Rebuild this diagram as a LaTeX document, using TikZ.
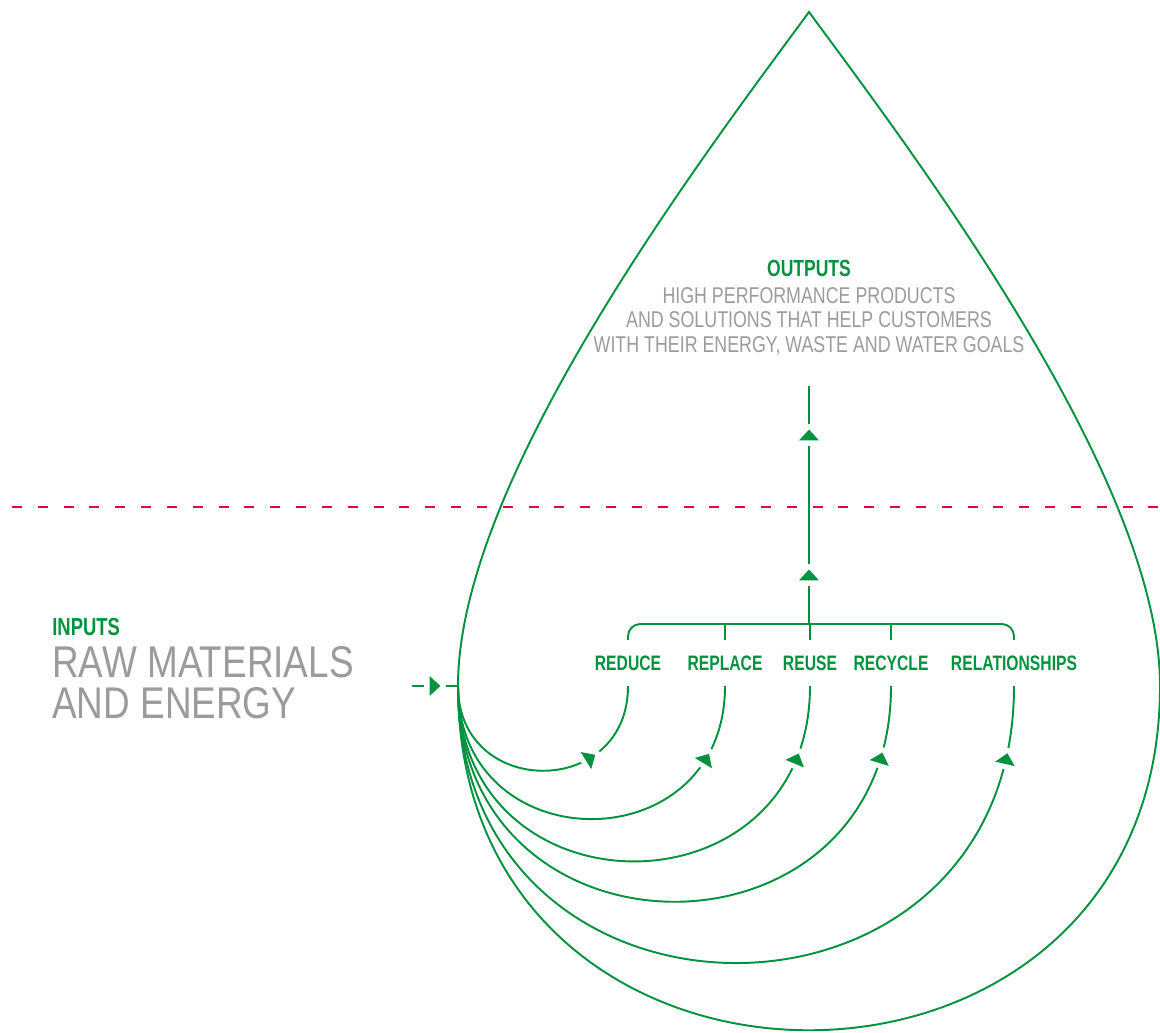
\documentclass[tikz,border=0pt]{standalone}
\usepackage{fontspec}
\usepackage{xcolor}
\usepackage{tikz}
\usetikzlibrary{calc, positioning, decorations.markings}

\newfontfamily\condfont{Liberation Sans}[FakeStretch=0.78]
\newfontfamily\widefont{Liberation Sans}[FakeStretch=0.83]
\newfontfamily\condbold{Liberation Sans}[FakeStretch=0.75]

\definecolor{leafgreen}{RGB}{0,146,63}
\definecolor{mistgray}{RGB}{155,155,155}
\definecolor{tidered}{RGB}{228,0,58}

\tikzset{
  stem/.style={draw=leafgreen, line width=1.1pt},
  tri/.style={postaction={decorate, decoration={markings, mark=at position #1 with {
        \fill[white] (-6pt,-1.4pt) rectangle (6pt,1.4pt);
        \fill[leafgreen] (3.1pt,0) -- (-3.1pt,5.7pt) -- (-3.1pt,-5.7pt) -- cycle;}}}},
  rlabel/.style={text=leafgreen, font=\condbold\bfseries\fontsize{11.9}{13}\selectfont,
    inner xsep=0pt, inner ysep=8.75pt, text height=8.5pt, text depth=0pt},
  headtext/.style={inner sep=0pt, text=leafgreen},
  bodytext/.style={inner sep=0pt, text=mistgray}
}

\begin{document}
\begin{tikzpicture}[x=0.02cm, y=0.02cm]
\useasboundingbox (0,0) rectangle (1160,-1032);

% water line
\draw[tidered, line width=1.1pt, dash pattern=on 5.7pt off 9pt] (12,-507) -- (1160,-507);

% the drop
\draw[stem] (458,-686) .. controls (458,-1145) and (1160,-1145) .. (1160,-686)
  .. controls (1160,-480) and (918,-160) .. (809,-12)
  .. controls (700,-160) and (458,-480) .. cycle;

\node[headtext, anchor=north west, font=\condbold\bfseries\fontsize{14}{15}\selectfont] (inputs) at (52,-618) {INPUTS};
\node[bodytext, below right=5.7pt and 0pt of inputs.south west, align=left,
  font=\widefont\fontsize{25.3}{23.2}\selectfont] (rawtext) {RAW MATERIALS\\AND ENERGY};

\node[bodytext, anchor=north, align=center, font=\condfont\fontsize{13}{13.9}\selectfont] (outtext) at (809,-287)
  {HIGH PERFORMANCE PRODUCTS\\AND SOLUTIONS THAT HELP CUSTOMERS\\WITH THEIR ENERGY, WASTE AND WATER GOALS};
\node[headtext, above=5.7pt of outtext, font=\condbold\bfseries\fontsize{13.3}{15}\selectfont] (outputs) {OUTPUTS};

\node[rlabel] (reduce) at (628,-663) {REDUCE};
\node[rlabel] (replace) at (725,-663) {REPLACE};
\node[rlabel] (reuse) at (810,-663) {REUSE};
\node[rlabel] (recycle) at (891,-663) {RECYCLE};
\node[rlabel] (relations) at (1014,-663) {RELATIONSHIPS};

\coordinate (hub) at (809,-624);
\coordinate (outlet) at (809,-386);
\coordinate (inlet) at (458,-686);
\coordinate (feed) at (412,-686);

% bracket over the five words
\draw[stem, rounded corners=7pt] (reduce.north) |- (hub) -| (relations.north);
\draw[stem] (replace.north) -- (replace.north |- hub);
\draw[stem] (recycle.north) -- (recycle.north |- hub);
\draw[stem] (reuse.north) -- (reuse.north |- hub);
\draw[stem, tri=0.206, tri=0.794] (hub) -- (outlet);

\draw[stem, tri=0.5] (feed) -- (inlet);
\foreach \word/\pos in {reduce/0.686, replace/0.821, reuse/0.867, recycle/0.894, relations/0.917}
  \draw[stem, tri=\pos] (inlet) to[out=-90, in=-90, looseness=1.703] (\word.south);

\end{tikzpicture}
\end{document}
